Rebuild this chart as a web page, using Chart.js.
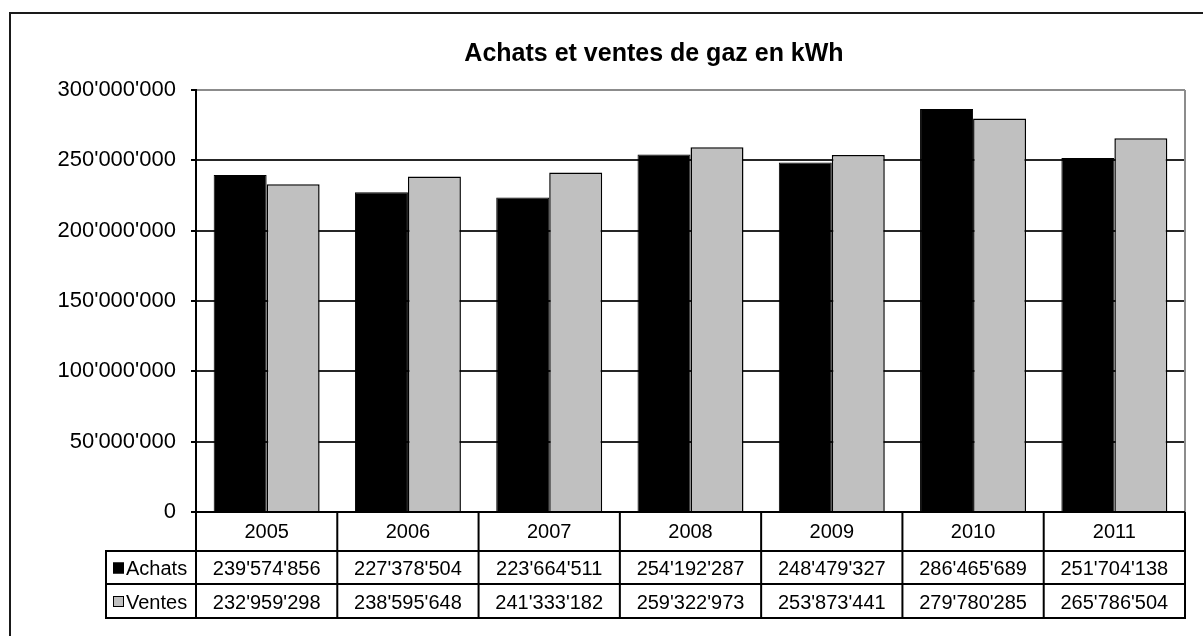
<!DOCTYPE html>
<html>
<head>
<meta charset="utf-8">
<script src="https://cdn.jsdelivr.net/npm/chart.js@4"></script>
<style>
  html, body { margin: 0; padding: 0; background: #fff; }
  #wrap { width: 1203px; height: 636px; }
</style>
</head>
<body>
<div id="wrap"><canvas id="c" width="1203" height="636"></canvas></div>
<script>
const chartTitle = "Achats et ventes de gaz en kWh";
const categories = ["2005", "2006", "2007", "2008", "2009", "2010", "2011"];
const seriesNames = ["Achats", "Ventes"];
const achats = [239574856, 227378504, 223664511, 254192287, 248479327, 286465689, 251704138];
const ventes = [232959298, 238595648, 241333182, 259322973, 253873441, 279780285, 265786504];
const yTicks = [0, 50000000, 100000000, 150000000, 200000000, 250000000, 300000000];

const FONT = "'Liberation Sans', Arial, sans-serif";
const fmt = v => String(Math.round(v)).replace(/\B(?=(\d{3})+(?!\d))/g, "'");
const colors = ["#000000", "#c0c0c0"];

const tablePlugin = {
  id: 'tablePlugin',
  beforeDraw(chart) {
    const ctx = chart.ctx;
    ctx.save();
    ctx.fillStyle = '#fff';
    ctx.fillRect(0, 0, chart.width, chart.height);
    // outer chart border (left and top visible)
    ctx.strokeStyle = '#1a1a1a';
    ctx.lineWidth = 2;
    ctx.beginPath();
    ctx.moveTo(10, chart.height + 2);
    ctx.lineTo(10, 13);
    ctx.lineTo(chart.width + 2, 13);
    ctx.stroke();
    // title
    ctx.fillStyle = '#000';
    ctx.font = "bold 25px " + FONT;
    ctx.textAlign = 'center';
    ctx.textBaseline = 'middle';
    ctx.fillText(chartTitle, 654, 54);
    ctx.restore();
  },
  afterDatasetsDraw(chart) {
    const ctx = chart.ctx;
    const a = chart.chartArea;
    const n = categories.length;
    const w = (a.right - a.left) / n;
    const r0 = a.bottom, r1 = a.bottom + 39, r2 = a.bottom + 72, r3 = a.bottom + 106;
    const legLeft = 106;
    ctx.save();
    // right plot border (gray)
    ctx.strokeStyle = '#8c8c8c';
    ctx.lineWidth = 2;
    ctx.beginPath();
    ctx.moveTo(a.right, a.top);
    ctx.lineTo(a.right, a.bottom);
    ctx.stroke();
    // table lines
    ctx.strokeStyle = '#000';
    ctx.lineWidth = 2;
    ctx.beginPath();
    ctx.moveTo(a.left, r0); ctx.lineTo(a.right, r0);
    [r1, r2, r3].forEach(y => { ctx.moveTo(legLeft, y); ctx.lineTo(a.right, y); });
    for (let i = 0; i <= n; i++) {
      const x = a.left + i * w;
      ctx.moveTo(x, r0 - (i === 0 ? 1 : 0)); ctx.lineTo(x, r3 + 1);
    }
    ctx.moveTo(legLeft, r1 - 1); ctx.lineTo(legLeft, r3 + 1);
    ctx.stroke();
    // texts
    ctx.fillStyle = '#000';
    ctx.font = "20px " + FONT;
    ctx.textAlign = 'center';
    ctx.textBaseline = 'middle';
    const xs = chart.scales.x;
    categories.forEach((c, i) => {
      const cx = xs.getPixelForValue(i);
      ctx.fillText(c, cx, (r0 + r1) / 2 + 1);
      ctx.fillText(fmt(achats[i]), cx, (r1 + r2) / 2 + 2);
      ctx.fillText(fmt(ventes[i]), cx, (r2 + r3) / 2 + 2);
    });
    // legend column
    const rows = [[r1, r2], [r2, r3]];
    seriesNames.forEach((s, k) => {
      const cy = (rows[k][0] + rows[k][1]) / 2;
      ctx.fillStyle = colors[k];
      ctx.fillRect(113, cy - 5, 11, 11);
      ctx.strokeStyle = '#000';
      ctx.lineWidth = 1;
      ctx.strokeRect(113.5, cy - 4.5, 10, 10);
      ctx.fillStyle = '#000';
      ctx.textAlign = 'left';
      ctx.fillText(s, 126, cy + 2);
    });
    ctx.restore();
  }
};

new Chart(document.getElementById('c'), {
  type: 'bar',
  data: {
    labels: categories,
    datasets: [
      { label: seriesNames[0], data: achats, backgroundColor: colors[0], borderColor: '#000', borderWidth: 1 },
      { label: seriesNames[1], data: ventes, backgroundColor: colors[1], borderColor: '#000', borderWidth: 1.5 }
    ]
  },
  options: {
    responsive: false,
    animation: false,
    devicePixelRatio: 1,
    layout: { padding: { left: 0, right: 18, top: 90, bottom: 124 } },
    datasets: { bar: { categoryPercentage: 0.75, barPercentage: 1 } },
    plugins: {
      legend: { display: false },
      title: { display: false },
      tooltip: { enabled: false }
    },
    scales: {
      x: { display: false },
      y: {
        min: 0, max: 300000000,
        afterFit(scale) { scale.width = 196; },
        afterBuildTicks(scale) { scale.ticks = yTicks.map(v => ({ value: v })); },
        ticks: {
          color: '#000',
          padding: 15,
          font: { family: FONT, size: 22 },
          callback: v => fmt(v)
        },
        grid: {
          color: ctx => ctx.tick && ctx.tick.value === 300000000 ? '#8c8c8c' : '#262626',
          lineWidth: 2,
          tickColor: '#000',
          tickLength: 5,
          drawTicks: true
        },
        border: { display: true, color: '#000', width: 2 }
      }
    }
  },
  plugins: [tablePlugin]
});
</script>
</body>
</html>
